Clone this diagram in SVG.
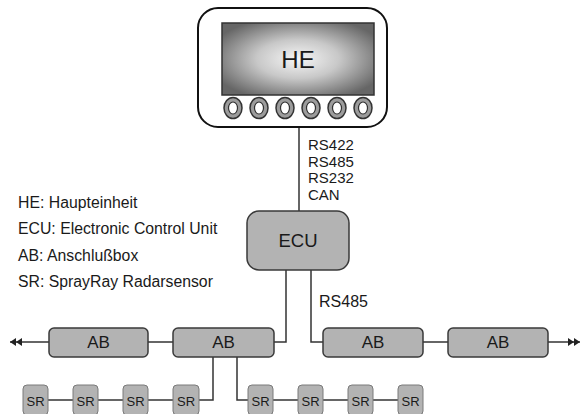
<svg xmlns="http://www.w3.org/2000/svg" width="581" height="414" viewBox="0 0 581 414">
<defs>
<radialGradient id="scr" cx="0.5" cy="0.5" r="0.6">
<stop offset="0" stop-color="#f6f6f6"/>
<stop offset="0.45" stop-color="#c8c8c8"/>
<stop offset="1" stop-color="#666"/>
</radialGradient>
<marker id="dbl" viewBox="0 0 12 8" refX="12" refY="4" markerWidth="12" markerHeight="8" markerUnits="userSpaceOnUse" orient="auto">
<path d="M0,0 L6,4 L0,8 Z M6,0 L12,4 L6,8 Z" fill="#222"/>
</marker>
</defs>
<style>
.box{fill:#b3b3b3;stroke:#3a3a3a;stroke-width:1.5}
.sr{fill:#b3b3b3;stroke:#7a7a7a;stroke-width:1}
.ln{fill:none;stroke:#333;stroke-width:1.5}
.t{font-family:"Liberation Sans",Arial,sans-serif;fill:#1a1a1a}
.c{text-anchor:middle}
.btn{fill:#9c9c9c;stroke:#333;stroke-width:1.5}
.bi{fill:#fff;stroke:#333;stroke-width:1.2}
</style>

<g id="legend" class="t" font-size="15.8">
<text x="18" y="208">HE: Haupteinheit</text>
<text x="18" y="234">ECU: Electronic Control Unit</text>
<text x="18" y="261">AB: Anschlußbox</text>
<text x="18" y="287">SR: SprayRay Radarsensor</text>
</g>

<g id="connectors">
<line class="ln" x1="299" y1="127" x2="299" y2="211"/>
<polyline class="ln" points="286,270 286,342 274,342"/>
<polyline class="ln" points="311,270 311,342 323,342"/>
<line class="ln" x1="148" y1="342" x2="173" y2="342"/>
<line class="ln" x1="423" y1="342" x2="448" y2="342"/>
<line class="ln" x1="49" y1="342" x2="10" y2="342" marker-end="url(#dbl)"/>
<line class="ln" x1="548" y1="342" x2="580" y2="342" marker-end="url(#dbl)"/>
<polyline class="ln" points="213,357 213,400 199,400"/>
<polyline class="ln" points="237,357 237,400 249,400"/>
<line class="ln" x1="48" y1="400" x2="73" y2="400"/>
<line class="ln" x1="98" y1="400" x2="123" y2="400"/>
<line class="ln" x1="148" y1="400" x2="173" y2="400"/>
<line class="ln" x1="273" y1="400" x2="298" y2="400"/>
<line class="ln" x1="323" y1="400" x2="348" y2="400"/>
<line class="ln" x1="373" y1="400" x2="398" y2="400"/>
</g>

<g id="bus-labels" class="t">
<text x="308" y="150" font-size="15">RS422</text>
<text x="308" y="166.5" font-size="15">RS485</text>
<text x="308" y="183" font-size="15">RS232</text>
<text x="308" y="199.5" font-size="15">CAN</text>
<text x="319" y="307" font-size="16">RS485</text>
</g>

<g id="HE">
<rect x="198" y="8" width="189" height="119" rx="20" fill="#fff" stroke="#111" stroke-width="2"/>
<rect x="222" y="23" width="152" height="72" fill="url(#scr)" stroke="#333" stroke-width="1.5"/>
<text class="t c" x="298" y="68" font-size="24">HE</text>
<ellipse class="btn" cx="233" cy="108" rx="9" ry="10.5"/><ellipse class="bi" cx="233" cy="108" rx="4.5" ry="6"/>
<ellipse class="btn" cx="259" cy="108" rx="9" ry="10.5"/><ellipse class="bi" cx="259" cy="108" rx="4.5" ry="6"/>
<ellipse class="btn" cx="285" cy="108" rx="9" ry="10.5"/><ellipse class="bi" cx="285" cy="108" rx="4.5" ry="6"/>
<ellipse class="btn" cx="311" cy="108" rx="9" ry="10.5"/><ellipse class="bi" cx="311" cy="108" rx="4.5" ry="6"/>
<ellipse class="btn" cx="337" cy="108" rx="9" ry="10.5"/><ellipse class="bi" cx="337" cy="108" rx="4.5" ry="6"/>
<ellipse class="btn" cx="363" cy="108" rx="9" ry="10.5"/><ellipse class="bi" cx="363" cy="108" rx="4.5" ry="6"/>
</g>

<g id="ECU">
<rect class="box" x="247" y="211" width="102" height="59" rx="12"/>
<text class="t c" x="298" y="247" font-size="18.5">ECU</text>
</g>

<g id="AB1"><rect class="box" x="49" y="328" width="99" height="29" rx="5"/><text class="t c" x="98.5" y="348" font-size="17">AB</text></g>
<g id="AB2"><rect class="box" x="173" y="328" width="101" height="29" rx="5"/><text class="t c" x="223.5" y="348" font-size="17">AB</text></g>
<g id="AB3"><rect class="box" x="323" y="328" width="100" height="29" rx="5"/><text class="t c" x="373" y="348" font-size="17">AB</text></g>
<g id="AB4"><rect class="box" x="448" y="328" width="100" height="29" rx="5"/><text class="t c" x="498" y="348" font-size="17">AB</text></g>

<g id="SR1"><rect class="sr" x="23" y="385" width="25" height="30" rx="4"/><text class="t c" x="35.5" y="406" font-size="13">SR</text></g>
<g id="SR2"><rect class="sr" x="73" y="385" width="25" height="30" rx="4"/><text class="t c" x="85.5" y="406" font-size="13">SR</text></g>
<g id="SR3"><rect class="sr" x="123" y="385" width="25" height="30" rx="4"/><text class="t c" x="135.5" y="406" font-size="13">SR</text></g>
<g id="SR4"><rect class="sr" x="173" y="385" width="26" height="30" rx="4"/><text class="t c" x="186" y="406" font-size="13">SR</text></g>
<g id="SR5"><rect class="sr" x="248" y="385" width="25" height="30" rx="4"/><text class="t c" x="260.5" y="406" font-size="13">SR</text></g>
<g id="SR6"><rect class="sr" x="298" y="385" width="25" height="30" rx="4"/><text class="t c" x="310.5" y="406" font-size="13">SR</text></g>
<g id="SR7"><rect class="sr" x="348" y="385" width="25" height="30" rx="4"/><text class="t c" x="360.5" y="406" font-size="13">SR</text></g>
<g id="SR8"><rect class="sr" x="398" y="385" width="25" height="30" rx="4"/><text class="t c" x="410.5" y="406" font-size="13">SR</text></g>
</svg>
